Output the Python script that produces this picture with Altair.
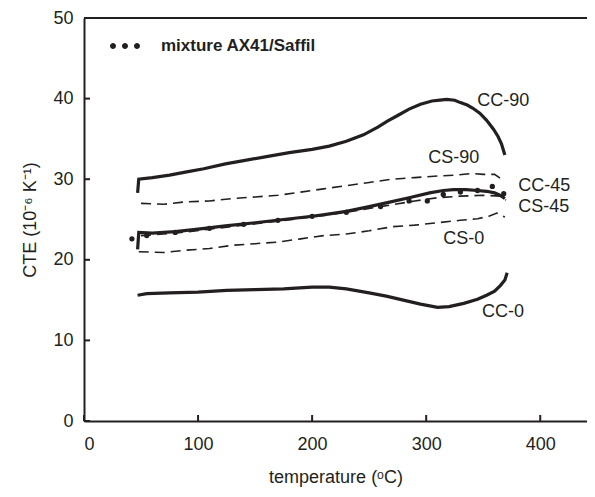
import altair as alt
import pandas as pd

# ---- data ----
cc90_t = [47, 48, 60, 75, 90, 105, 124, 140, 160, 180, 200, 215, 230, 245, 258, 266, 275, 285, 295, 305, 312, 318, 325, 330, 336, 341, 347, 353, 359, 363, 366, 369]
cc90_v = [28.3, 30.0, 30.2, 30.5, 30.9, 31.3, 31.9, 32.3, 32.8, 33.3, 33.7, 34.1, 34.7, 35.5, 36.5, 37.2, 37.9, 38.7, 39.3, 39.7, 39.8, 39.9, 39.8, 39.5, 39.2, 38.8, 38.2, 37.3, 36.2, 35.3, 34.4, 33.0]

cc45_t = [47, 48, 60, 80, 100, 124, 150, 175, 200, 211, 230, 250, 266, 285, 303, 315, 324, 335, 345, 353, 360, 365, 369]
cc45_v = [21.3, 23.4, 23.3, 23.5, 23.8, 24.2, 24.6, 25.0, 25.4, 25.6, 26.0, 26.6, 27.1, 27.7, 28.3, 28.6, 28.7, 28.7, 28.6, 28.5, 28.3, 28.0, 27.6]

cc0_t = [47, 55, 75, 100, 125, 150, 175, 200, 215, 230, 250, 265, 280, 295, 310, 320, 333, 345, 353, 360, 365, 369, 371]
cc0_v = [15.6, 15.8, 15.9, 16.0, 16.2, 16.3, 16.4, 16.6, 16.6, 16.4, 15.9, 15.5, 15.0, 14.5, 14.1, 14.2, 14.6, 15.1, 15.6, 16.1, 16.8, 17.5, 18.4]

cs90_t = [50, 70, 90, 110, 130, 150, 170, 190, 210, 230, 250, 270, 290, 310, 325, 340, 350, 360, 368]
cs90_v = [27.0, 26.9, 27.2, 27.3, 27.6, 27.8, 28.0, 28.4, 28.8, 29.2, 29.6, 30.0, 30.2, 30.4, 30.5, 30.7, 30.6, 30.6, 29.8]

cs45_t = [50, 80, 110, 140, 170, 200, 230, 260, 290, 310, 330, 350, 365, 370]
cs45_v = [23.0, 23.3, 23.8, 24.3, 24.8, 25.3, 25.9, 26.6, 27.3, 27.7, 27.9, 28.0, 27.9, 27.4]

cs0_t = [48, 70, 90, 110, 130, 150, 170, 190, 210, 230, 250, 270, 290, 310, 330, 345, 355, 362, 369]
cs0_v = [21.0, 20.9, 21.2, 21.4, 21.8, 22.0, 22.2, 22.6, 23.0, 23.2, 23.6, 24.1, 24.3, 24.6, 24.9, 25.1, 25.4, 25.8, 25.3]

mix_t = [42, 55, 80, 110, 140, 170, 200, 230, 260, 285, 301, 315, 330, 345, 358, 368]
mix_v = [22.6, 23.0, 23.4, 23.9, 24.4, 24.9, 25.4, 25.9, 26.6, 27.3, 27.3, 28.1, 28.4, 28.6, 29.1, 28.2]

label_text = ["CC-90", "CS-90", "CC-45", "CS-45", "CS-0", "CC-0"]
label_t = [344.7, 301.8, 380.7, 380.7, 315.0, 349.0]
label_v = [39.7, 32.6, 29.1, 26.5, 22.6, 13.5]

x_ticks = [0, 100, 200, 300, 400]
y_ticks = [0, 10, 20, 30, 40, 50]

# ---- frames ----
def frame(name, t, v):
    return pd.DataFrame({"series": name, "t": t, "v": v})

solid = pd.concat([frame("CC-90", cc90_t, cc90_v), frame("CC-45", cc45_t, cc45_v), frame("CC-0", cc0_t, cc0_v)])
dashed = pd.concat([frame("CS-90", cs90_t, cs90_v), frame("CS-45", cs45_t, cs45_v), frame("CS-0", cs0_t, cs0_v)])
mix = frame("mixture AX41/Saffil", mix_t, mix_v)
labels = pd.DataFrame({"t": label_t, "v": label_v, "label": label_text})

W, H = 503, 403
INK = "#231f20"
FONT = "Liberation Sans"

X = alt.X("t:Q", scale=alt.Scale(domain=[0, 441], nice=False, zero=False),
          axis=alt.Axis(values=x_ticks, grid=False, ticks=False, tickSize=0, labelPadding=14,
                        title="temperature (ᵒC)", titlePadding=15, format="d"))
Y = alt.Y("v:Q", scale=alt.Scale(domain=[0, 50], nice=False),
          axis=alt.Axis(values=y_ticks, grid=False, ticks=False, tickSize=0, labelPadding=11,
                        title="CTE (10⁻⁶ K⁻¹)", titlePadding=13, format="d"))

solid_layer = alt.Chart(solid).mark_line(color=INK, strokeWidth=3.2).encode(x=X, y=Y, detail="series:N")
dashed_layer = alt.Chart(dashed).mark_line(color=INK, strokeWidth=1.6, strokeDash=[10, 6]).encode(x=X, y=Y, detail="series:N")

dots_path = ("M-1,0A0.2,0.2,0,1,1,-0.6,0A0.2,0.2,0,1,1,-1,0Z"
             "M-0.2,0A0.2,0.2,0,1,1,0.2,0A0.2,0.2,0,1,1,-0.2,0Z"
             "M0.6,0A0.2,0.2,0,1,1,1,0A0.2,0.2,0,1,1,0.6,0Z")
mix_layer = alt.Chart(mix).mark_circle(size=28, opacity=1).encode(
    x=X, y=Y,
    color=alt.Color("series:N", scale=alt.Scale(range=[INK]),
                    legend=alt.Legend(title=None, orient="none", legendX=26, legendY=13,
                                      symbolType=dots_path, symbolSize=900, symbolStrokeWidth=0,
                                      labelFont=FONT, labelFontWeight="bold", labelLimit=0,
                                      labelFontSize=17, labelColor=INK, labelOffset=21, padding=0,
                                      symbolOpacity=1)))

label_layer = alt.Chart(labels).mark_text(align="left", baseline="middle", fontSize=18, font=FONT, color=INK).encode(
    x=X, y=Y, text="label:N")

xtick_layer = alt.Chart(pd.DataFrame({"t": x_ticks})).mark_rule(color=INK, strokeWidth=2).encode(
    x=X, y=alt.value(H), y2=alt.value(H - 6))
ytick_layer = alt.Chart(pd.DataFrame({"v": y_ticks})).mark_rule(color=INK, strokeWidth=2).encode(
    y=Y, x=alt.value(0), x2=alt.value(6))
top_layer = alt.Chart(pd.DataFrame({"v": [50]})).mark_rule(color=INK, strokeWidth=2).encode(y=Y)

chart = alt.layer(top_layer, xtick_layer, ytick_layer, dashed_layer, solid_layer, mix_layer, label_layer).properties(
    width=W, height=H,
    autosize=alt.AutoSizeParams(type="none"),
    padding={"left": 76, "top": 10, "right": 0, "bottom": 68},
).configure_view(stroke=None).configure_axis(
    domainColor=INK, domainWidth=2, labelColor=INK, titleColor=INK,
    labelFont=FONT, titleFont=FONT, labelFontSize=18, titleFontSize=18, titleFontWeight="normal",
)

chart.save("out.html", embed_options={"renderer": "svg", "actions": False})
